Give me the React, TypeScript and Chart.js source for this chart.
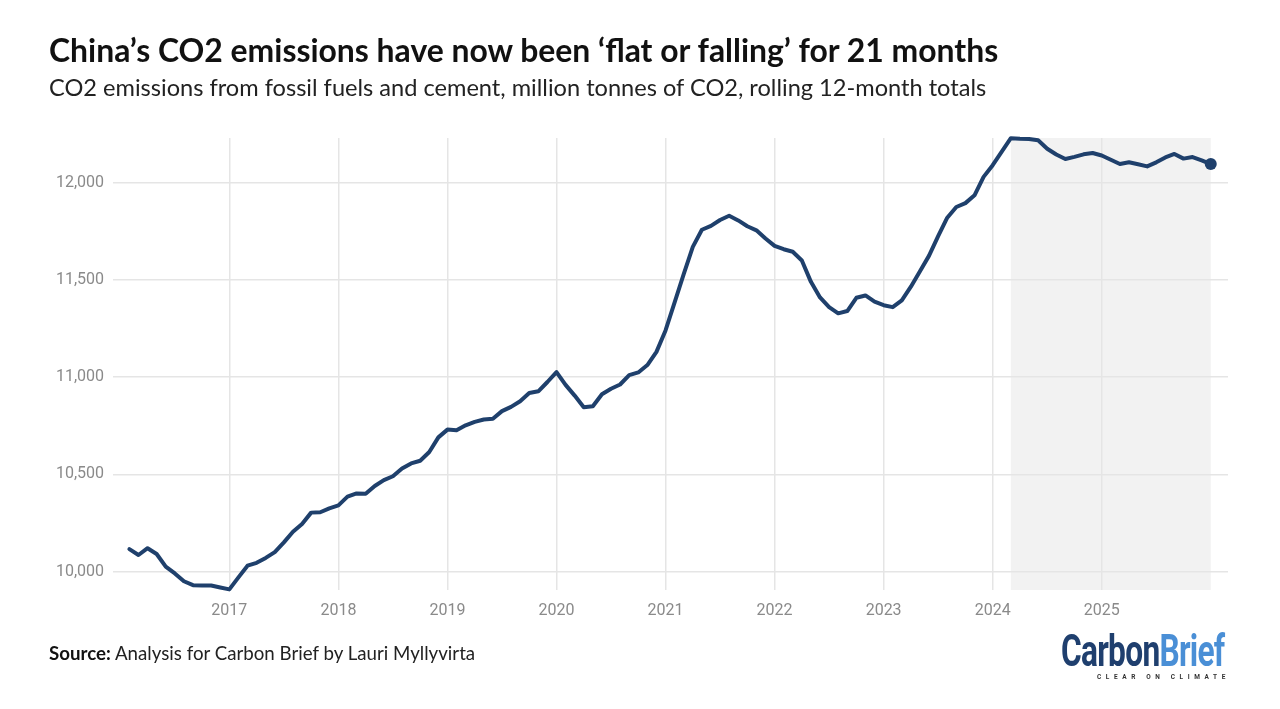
import React, { useEffect, useRef } from "react";
import { Chart, registerables } from "chart.js";

Chart.register(...registerables);

const TITLE = "China’s CO2 emissions have now been ‘flat or falling’ for 21 months";
const SUBTITLE =
  "CO2 emissions from fossil fuels and cement, million tonnes of CO2, rolling 12-month totals";
const SOURCE_LABEL = "Source:";
const SOURCE_TEXT = " Analysis for Carbon Brief by Lauri Myllyvirta";

// Rolling 12-month totals (MtCO2), Jan..Dec of each year
const years = [2016, 2017, 2018, 2019, 2020, 2021, 2022, 2023, 2024, 2025];
const emissions2016 = [10115, 10085, 10120, 10090, 10025, 9990, 9950, 9930, 9928, 9928, 9918, 9908];
const emissions2017 = [9970, 10030, 10045, 10070, 10100, 10150, 10205, 10245, 10303, 10305, 10325, 10340];
const emissions2018 = [10385, 10402, 10400, 10440, 10470, 10490, 10530, 10556, 10570, 10615, 10690, 10730];
const emissions2019 = [10727, 10752, 10770, 10782, 10786, 10825, 10847, 10876, 10918, 10927, 10975, 11026];
const emissions2020 = [10960, 10905, 10845, 10850, 10912, 10940, 10962, 11010, 11024, 11062, 11130, 11240];
const emissions2021 = [11385, 11530, 11670, 11758, 11778, 11808, 11830, 11806, 11776, 11755, 11713, 11675];
const emissions2022 = [11658, 11645, 11600, 11490, 11410, 11360, 11328, 11340, 11408, 11420, 11388, 11370];
const emissions2023 = [11360, 11395, 11465, 11545, 11625, 11725, 11820, 11875, 11895, 11935, 12030, 12090];
const emissions2024 = [12160, 12229, 12226, 12225, 12218, 12175, 12145, 12122, 12133, 12146, 12153, 12140];
const emissions2025 = [12118, 12096, 12105, 12095, 12084, 12105, 12130, 12148, 12124, 12132, 12115, 12096];
const emissionsByYear = [
  emissions2016, emissions2017, emissions2018, emissions2019, emissions2020,
  emissions2021, emissions2022, emissions2023, emissions2024, emissions2025,
];

const yearTicks = [2017, 2018, 2019, 2020, 2021, 2022, 2023, 2024, 2025];
const valueTicks = [10000, 10500, 11000, 11500, 12000];

// "flat or falling" period (from end of Feb 2024 to end of 2025)
const shadeStart = 2024 + 2 / 12;
const shadeEnd = 2026;

const X_MIN = 2015.933;
const X_MAX = 2026.158;
const Y_MIN = 9905;
const Y_MAX = 12230;

const LINE_COLOR = "#1f406c";

const shadePlugin = {
  id: "shadePeriod",
  beforeDraw(chart: any) {
    const { ctx, chartArea, scales } = chart;
    const x0 = scales.x.getPixelForValue(shadeStart);
    const x1 = scales.x.getPixelForValue(shadeEnd);
    ctx.save();
    ctx.fillStyle = "#f2f2f2";
    ctx.fillRect(x0, chartArea.top, x1 - x0, chartArea.bottom - chartArea.top);
    ctx.restore();
  },
};

export default function App() {
  const canvasRef = useRef<HTMLCanvasElement | null>(null);

  useEffect(() => {
    const points: { x: number; y: number }[] = [];
    years.forEach((yr, yi) => {
      emissionsByYear[yi].forEach((v, mi) => {
        points.push({ x: yr + (mi + 1) / 12, y: v });
      });
    });
    const lastIndex = points.length - 1;

    const chart = new Chart(canvasRef.current as HTMLCanvasElement, {
      type: "line",
      data: {
        datasets: [
          {
            data: points,
            borderColor: LINE_COLOR,
            backgroundColor: LINE_COLOR,
            borderWidth: 4,
            tension: 0,
            borderJoinStyle: "round",
            borderCapStyle: "round",
            pointRadius: (c: any) => (c.dataIndex === lastIndex ? 6 : 0),
            pointHoverRadius: 0,
            pointBorderWidth: 0,
            clip: false as any,
          },
        ],
      },
      options: {
        animation: false,
        responsive: false,
        devicePixelRatio: 1,
        events: [],
        layout: { padding: { top: 138, right: 52, bottom: 79, left: 0 } },
        plugins: {
          legend: { display: false },
          tooltip: { enabled: false },
          title: { display: false },
        },
        scales: {
          x: {
            type: "linear",
            min: X_MIN,
            max: X_MAX,
            afterBuildTicks: (s: any) => {
              s.ticks = yearTicks.map((v) => ({ value: v }));
            },
            afterFit: (s: any) => {
              s.height = 40;
            },
            border: { display: false },
            grid: { color: "#e5e5e5", lineWidth: 1.5, drawTicks: false },
            ticks: {
              padding: 11,
              color: "#8a8a8a",
              font: { family: "Roboto", size: 16 },
              callback: (v: any) => String(v),
              maxRotation: 0,
              autoSkip: false,
            },
          },
          y: {
            type: "linear",
            min: Y_MIN,
            max: Y_MAX,
            afterBuildTicks: (s: any) => {
              s.ticks = valueTicks.map((v) => ({ value: v }));
            },
            afterFit: (s: any) => {
              s.width = 113;
            },
            border: { display: false },
            grid: { color: "#e5e5e5", lineWidth: 1.5, drawTicks: false },
            ticks: {
              padding: 9,
              color: "#8a8a8a",
              font: { family: "Roboto", size: 16 },
              callback: (v: any) => Number(v).toLocaleString("en-US"),
            },
          },
        },
      },
      plugins: [shadePlugin],
    });
    return () => chart.destroy();
  }, []);

  return (
    <div
      style={{
        position: "absolute",
        left: 0,
        top: 0,
        width: 1280,
        height: 709,
        background: "#ffffff",
        overflow: "hidden",
      }}
    >
      <canvas
        ref={canvasRef}
        width={1280}
        height={709}
        style={{ position: "absolute", left: 0, top: 0, width: 1280, height: 709 }}
      />
      <div
        style={{
          position: "absolute",
          left: 49,
          top: 31,
          fontFamily: "Lato, 'Noto Sans', sans-serif",
          fontWeight: 700,
          fontSize: 31.9,
          lineHeight: "38.3px",
          color: "#111",
          whiteSpace: "nowrap",
        }}
      >
        {TITLE}
      </div>
      <div
        style={{
          position: "absolute",
          left: 49,
          top: 73,
          fontFamily: "Lato, 'Noto Sans', sans-serif",
          fontSize: 23.6,
          lineHeight: "28.3px",
          color: "#222",
          whiteSpace: "nowrap",
        }}
      >
        {SUBTITLE}
      </div>
      <div
        style={{
          position: "absolute",
          left: 49,
          top: 642,
          fontFamily: "Lato, 'Noto Sans', sans-serif",
          fontSize: 18.7,
          lineHeight: "22.4px",
          color: "#222",
          whiteSpace: "nowrap",
        }}
      >
        <span style={{ fontWeight: 700, color: "#111" }}>{SOURCE_LABEL}</span>
        {SOURCE_TEXT}
      </div>
      <div
        style={{
          position: "absolute",
          left: 1061,
          top: 626,
          fontFamily: "Roboto, sans-serif",
          fontWeight: 700,
          fontSize: 44,
          lineHeight: "50px",
          letterSpacing: -1,
          whiteSpace: "nowrap",
          transform: "scaleX(0.72)",
          transformOrigin: "left top",
        }}
      >
        <span style={{ color: "#1f3f6e" }}>Carbon</span>
        <span style={{ color: "#4a8fd6" }}>Brief</span>
      </div>
      <div
        style={{
          position: "absolute",
          left: 1097,
          top: 673,
          fontFamily: "Roboto, sans-serif",
          fontWeight: 700,
          fontSize: 6.5,
          lineHeight: "8px",
          letterSpacing: 4.6,
          color: "#333",
          whiteSpace: "nowrap",
        }}
      >
        CLEAR ON CLIMATE
      </div>
    </div>
  );
}
